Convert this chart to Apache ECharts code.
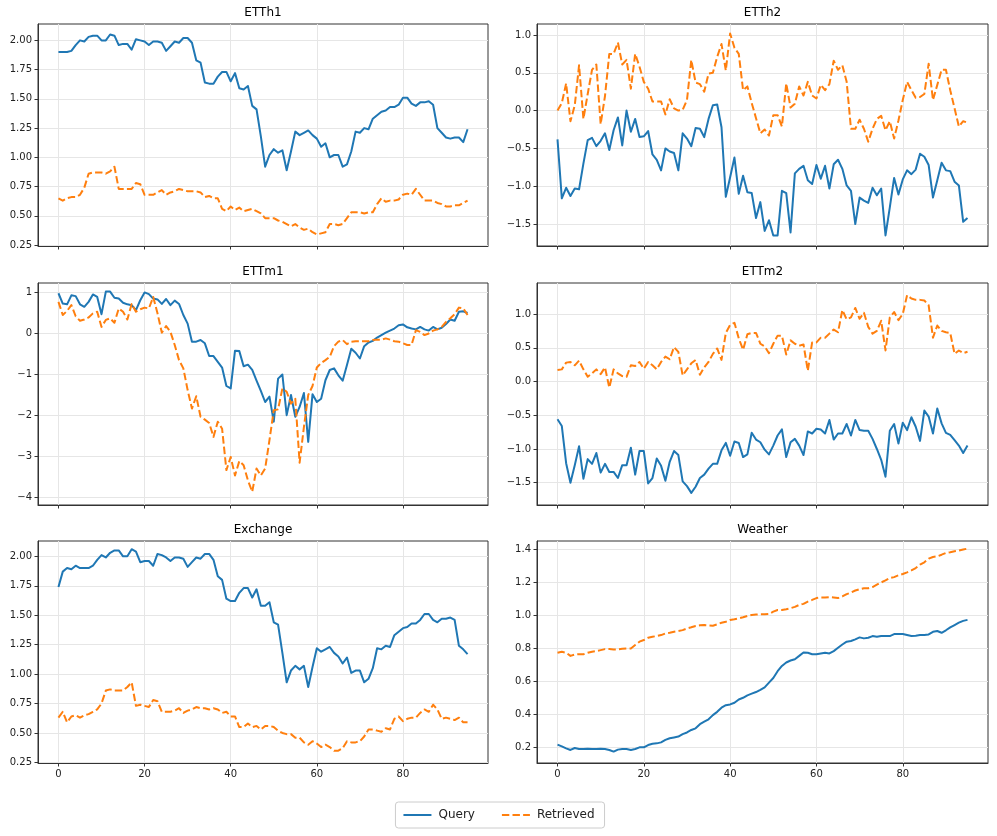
<!DOCTYPE html>
<html>
<head>
<meta charset="utf-8">
<script src="https://cdn.jsdelivr.net/npm/echarts@6.0.0/dist/echarts.min.js"></script>
<style>
  html, body { margin: 0; padding: 0; background: #fff; }
  #main { width: 997px; height: 836px; }
</style>
</head>
<body>
<div id="main"></div>
<script>
// values, one point per step 0..95
const etth1Query = [1.90,1.90,1.90,1.91,1.96,2.00,1.99,2.03,2.04,2.04,2.00,2.00,2.05,2.04,1.96,1.97,1.97,1.92,2.01,2.00,1.99,1.96,1.99,1.99,1.98,1.91,1.95,1.99,1.98,2.02,2.02,1.98,1.83,1.81,1.64,1.63,1.63,1.69,1.73,1.73,1.65,1.72,1.59,1.58,1.61,1.44,1.41,1.18,0.92,1.02,1.07,1.04,1.06,0.89,1.05,1.22,1.19,1.21,1.23,1.19,1.16,1.09,1.12,1.00,1.02,1.02,0.92,0.94,1.05,1.22,1.21,1.25,1.24,1.33,1.36,1.39,1.40,1.43,1.43,1.45,1.51,1.51,1.46,1.44,1.47,1.47,1.48,1.45,1.25,1.21,1.17,1.16,1.17,1.17,1.13,1.24]
const etth1Retrieved = [0.65,0.63,0.65,0.66,0.66,0.68,0.74,0.86,0.87,0.87,0.87,0.86,0.88,0.92,0.73,0.73,0.73,0.73,0.78,0.77,0.68,0.68,0.68,0.70,0.72,0.68,0.70,0.71,0.73,0.72,0.71,0.71,0.71,0.70,0.66,0.67,0.65,0.65,0.56,0.54,0.58,0.55,0.57,0.54,0.55,0.56,0.54,0.52,0.48,0.48,0.48,0.46,0.45,0.43,0.41,0.43,0.40,0.38,0.39,0.36,0.34,0.35,0.36,0.43,0.43,0.42,0.43,0.48,0.53,0.53,0.53,0.52,0.53,0.53,0.60,0.65,0.62,0.63,0.63,0.64,0.68,0.69,0.68,0.73,0.68,0.63,0.63,0.63,0.61,0.60,0.58,0.58,0.59,0.59,0.61,0.63]

const etth2Query = [-0.38,-1.16,-1.02,-1.13,-1.03,-1.04,-0.70,-0.39,-0.36,-0.47,-0.40,-0.30,-0.52,-0.26,-0.09,-0.46,0.00,-0.28,-0.11,-0.35,-0.34,-0.27,-0.58,-0.65,-0.79,-0.50,-0.54,-0.56,-0.79,-0.30,-0.37,-0.47,-0.23,-0.24,-0.35,-0.11,0.07,0.08,-0.22,-1.14,-0.88,-0.62,-1.10,-0.86,-1.08,-1.09,-1.42,-1.21,-1.59,-1.45,-1.65,-1.65,-1.06,-1.09,-1.61,-0.83,-0.77,-0.73,-0.92,-0.97,-0.72,-0.90,-0.73,-1.03,-0.71,-0.65,-0.77,-0.99,-1.06,-1.50,-1.15,-1.19,-1.22,-1.02,-1.12,-1.03,-1.65,-1.28,-0.89,-1.11,-0.91,-0.79,-0.84,-0.78,-0.57,-0.61,-0.72,-1.15,-0.92,-0.69,-0.79,-0.80,-0.94,-0.99,-1.47,-1.42]
const etth2Retrieved = [0.00,0.10,0.36,-0.14,0.07,0.60,-0.11,0.22,0.54,0.61,-0.18,0.19,0.75,0.75,0.90,0.61,0.67,0.29,0.75,0.58,0.38,0.29,0.12,0.12,0.12,-0.05,0.15,0.03,0.00,0.01,0.14,0.67,0.37,0.35,0.25,0.49,0.50,0.71,0.88,0.53,1.02,0.83,0.75,0.27,0.32,0.10,-0.10,-0.30,-0.25,-0.33,-0.06,-0.06,-0.21,0.36,0.04,0.09,0.32,0.20,0.38,0.20,0.16,0.34,0.27,0.35,0.66,0.54,0.60,0.38,-0.24,-0.24,-0.12,-0.24,-0.41,-0.24,-0.11,-0.07,-0.26,-0.14,-0.37,-0.13,0.14,0.38,0.27,0.17,0.18,0.22,0.62,0.14,0.34,0.54,0.54,0.27,0.03,-0.21,-0.14,-0.16]

const ettm1Query = [0.98,0.73,0.71,0.93,0.91,0.71,0.65,0.77,0.95,0.89,0.47,1.02,1.02,0.87,0.85,0.75,0.71,0.69,0.57,0.81,1.00,0.96,0.85,0.83,0.72,0.84,0.69,0.80,0.72,0.45,0.24,-0.20,-0.20,-0.16,-0.24,-0.55,-0.55,-0.69,-0.83,-1.28,-1.34,-0.42,-0.43,-0.80,-0.76,-0.89,-1.15,-1.40,-1.67,-1.54,-2.15,-1.10,-1.00,-1.99,-1.50,-2.03,-1.79,-1.45,-2.64,-1.48,-1.67,-1.59,-1.14,-0.89,-0.85,-1.02,-1.15,-0.77,-0.37,-0.47,-0.61,-0.31,-0.22,-0.18,-0.10,-0.04,0.02,0.07,0.12,0.20,0.22,0.15,0.12,0.10,0.16,0.10,0.07,0.16,0.10,0.14,0.23,0.34,0.31,0.53,0.54,0.50]
const ettm1Retrieved = [0.77,0.45,0.55,0.69,0.42,0.31,0.34,0.39,0.49,0.53,0.16,0.33,0.37,0.26,0.61,0.53,0.34,0.72,0.53,0.59,0.63,0.61,0.89,0.49,0.02,0.18,0.04,-0.28,-0.65,-0.85,-1.38,-1.83,-1.53,-2.03,-2.10,-2.18,-2.52,-2.15,-2.32,-3.33,-3.01,-3.46,-3.11,-3.21,-3.58,-3.86,-3.29,-3.46,-3.29,-2.60,-1.87,-1.85,-1.34,-1.42,-1.71,-1.59,-3.15,-2.28,-1.50,-1.28,-0.83,-0.72,-0.65,-0.57,-0.31,-0.20,-0.16,-0.26,-0.20,-0.19,-0.19,-0.19,-0.19,-0.16,-0.15,-0.15,-0.12,-0.15,-0.19,-0.20,-0.24,-0.28,-0.28,0.08,0.04,-0.04,0.00,0.07,0.10,0.16,0.28,0.37,0.47,0.63,0.61,0.45]

const ettm2Query = [-0.56,-0.66,-1.21,-1.50,-1.24,-0.96,-1.44,-1.15,-1.22,-1.06,-1.35,-1.22,-1.34,-1.34,-1.43,-1.24,-1.24,-0.98,-1.38,-1.03,-1.03,-1.51,-1.43,-1.14,-1.25,-1.47,-1.19,-1.03,-1.09,-1.48,-1.55,-1.65,-1.56,-1.43,-1.38,-1.29,-1.22,-1.22,-1.02,-0.91,-1.10,-0.89,-0.91,-1.12,-1.08,-0.76,-0.86,-0.90,-1.01,-1.08,-0.95,-0.80,-0.71,-1.12,-0.90,-0.85,-0.95,-1.09,-0.74,-0.77,-0.70,-0.71,-0.77,-0.57,-0.86,-0.77,-0.77,-0.63,-0.80,-0.57,-0.72,-0.73,-0.73,-0.85,-1.00,-1.16,-1.41,-0.73,-0.63,-0.92,-0.61,-0.72,-0.53,-0.67,-0.88,-0.43,-0.52,-0.77,-0.40,-0.62,-0.76,-0.79,-0.87,-0.95,-1.06,-0.95]
const ettm2Retrieved = [0.17,0.18,0.28,0.29,0.24,0.31,0.18,0.07,0.12,0.18,0.11,0.21,-0.09,0.18,0.12,0.08,0.07,0.24,0.23,0.29,0.19,0.29,0.24,0.18,0.29,0.37,0.33,0.51,0.44,0.09,0.18,0.27,0.32,0.10,0.21,0.29,0.41,0.49,0.32,0.72,0.84,0.87,0.64,0.47,0.70,0.72,0.72,0.56,0.52,0.42,0.56,0.68,0.68,0.40,0.61,0.56,0.53,0.55,0.16,0.58,0.58,0.65,0.65,0.71,0.77,0.73,1.06,0.92,0.95,1.09,0.93,1.02,0.81,0.71,0.75,0.90,0.46,0.95,1.03,0.91,1.00,1.28,1.23,1.21,1.21,1.20,1.13,0.65,0.83,0.75,0.73,0.72,0.41,0.46,0.42,0.44]

const exchangeQuery = [1.74,1.87,1.90,1.89,1.92,1.90,1.90,1.90,1.92,1.97,2.01,1.99,2.03,2.05,2.05,2.00,2.00,2.06,2.04,1.95,1.96,1.96,1.92,2.02,2.01,1.99,1.96,1.99,1.99,1.98,1.91,1.95,1.99,1.98,2.02,2.02,1.97,1.83,1.80,1.64,1.62,1.62,1.69,1.73,1.73,1.65,1.72,1.58,1.58,1.61,1.44,1.42,1.18,0.93,1.03,1.07,1.04,1.07,0.89,1.06,1.22,1.19,1.21,1.23,1.18,1.15,1.09,1.14,1.01,1.03,1.03,0.93,0.96,1.05,1.22,1.21,1.24,1.23,1.33,1.36,1.39,1.40,1.43,1.43,1.46,1.51,1.51,1.46,1.44,1.47,1.47,1.48,1.46,1.24,1.21,1.17]
const exchangeRetrieved = [0.63,0.68,0.59,0.64,0.65,0.63,0.65,0.66,0.68,0.70,0.75,0.86,0.87,0.86,0.86,0.86,0.89,0.93,0.73,0.74,0.73,0.72,0.78,0.77,0.68,0.68,0.68,0.69,0.71,0.67,0.69,0.70,0.72,0.71,0.71,0.70,0.71,0.70,0.67,0.68,0.64,0.64,0.55,0.55,0.58,0.55,0.56,0.53,0.56,0.56,0.55,0.52,0.50,0.49,0.49,0.46,0.46,0.42,0.40,0.43,0.41,0.38,0.40,0.38,0.35,0.35,0.37,0.43,0.42,0.42,0.43,0.47,0.53,0.53,0.52,0.51,0.54,0.53,0.62,0.64,0.60,0.62,0.63,0.63,0.67,0.70,0.68,0.74,0.70,0.62,0.63,0.62,0.61,0.63,0.59,0.59]

const weatherQuery = [0.216,0.206,0.194,0.184,0.196,0.19,0.19,0.192,0.19,0.19,0.192,0.19,0.184,0.174,0.186,0.19,0.19,0.184,0.19,0.20,0.20,0.214,0.222,0.224,0.23,0.245,0.255,0.26,0.265,0.28,0.29,0.305,0.315,0.34,0.355,0.37,0.395,0.415,0.44,0.455,0.46,0.47,0.49,0.50,0.515,0.525,0.535,0.548,0.563,0.592,0.62,0.661,0.693,0.714,0.726,0.734,0.754,0.775,0.773,0.764,0.764,0.769,0.773,0.769,0.783,0.803,0.823,0.84,0.844,0.854,0.866,0.86,0.864,0.874,0.87,0.874,0.874,0.874,0.886,0.886,0.886,0.88,0.874,0.876,0.88,0.88,0.884,0.90,0.905,0.894,0.909,0.927,0.941,0.955,0.966,0.972]
const weatherRetrieved = [0.773,0.779,0.773,0.754,0.762,0.764,0.764,0.773,0.779,0.783,0.789,0.795,0.795,0.793,0.793,0.797,0.799,0.799,0.82,0.84,0.85,0.864,0.87,0.874,0.88,0.89,0.894,0.90,0.905,0.91,0.92,0.927,0.935,0.939,0.941,0.939,0.937,0.945,0.955,0.961,0.972,0.976,0.982,0.988,0.996,1.002,1.004,1.006,1.006,1.008,1.022,1.032,1.032,1.037,1.043,1.051,1.063,1.069,1.083,1.093,1.104,1.108,1.108,1.11,1.108,1.104,1.114,1.128,1.138,1.15,1.158,1.164,1.164,1.171,1.185,1.199,1.211,1.225,1.231,1.242,1.25,1.26,1.272,1.286,1.307,1.321,1.343,1.353,1.357,1.367,1.378,1.382,1.388,1.392,1.398,1.404]

// tick labels
const xTicks = [0, 20, 40, 60, 80]
const ticksPrice = [0.25, 0.5, 0.75, 1.0, 1.25, 1.5, 1.75, 2.0]
const ticksHalf = [-1.5, -1.0, -0.5, 0.0, 0.5, 1.0]
const ticksInt = [-4, -3, -2, -1, 0, 1]
const ticksWeather = [0.2, 0.4, 0.6, 0.8, 1.0, 1.2, 1.4]

const titles = ['ETTh1', 'ETTh2', 'ETTm1', 'ETTm2', 'Exchange', 'Weather']
const queries = [etth1Query, etth2Query, ettm1Query, ettm2Query, exchangeQuery, weatherQuery]
const retrieved = [etth1Retrieved, etth2Retrieved, ettm1Retrieved, ettm2Retrieved, exchangeRetrieved, weatherRetrieved]
const yTicks = [ticksPrice, ticksHalf, ticksInt, ticksHalf, ticksPrice, ticksWeather]
const yDecimals = [2, 1, 0, 1, 2, 1]
const yLimits = [[0.242, 2.14], [-1.79, 1.145], [-4.18, 1.23], [-1.83, 1.46], [0.245, 2.13], [0.105, 1.45]]

// layout of the 3x2 panels
const colLeft = [38, 537]
const colWidth = [450, 451]
const rowTop = [24, 283, 541]
const rowHeight = 222

const fmt = (d) => (v) => Number(v).toFixed(d).replace('-', '\u2212')

const chart = echarts.init(document.getElementById('main'), null, { renderer: 'canvas' })

const grids = []
const xAxes = []
const yAxes = []
const series = []
const titleList = []

titles.forEach((name, k) => {
  const row = Math.floor(k / 2)
  const col = k % 2
  grids.push({
    left: colLeft[col],
    top: rowTop[row],
    width: colWidth[col],
    height: rowHeight,
    show: true,
    borderColor: '#333',
    borderWidth: 1,
    backgroundColor: '#fff'
  })
  titleList.push({
    text: name,
    left: colLeft[col] + colWidth[col] / 2,
    top: rowTop[row] - 17,
    textAlign: 'center',
    padding: 0,
    textStyle: { fontFamily: 'DejaVu Sans', fontSize: 12, fontWeight: 'normal', color: '#000' }
  })
  xAxes.push({
    type: 'value',
    gridIndex: k,
    min: -4.75,
    max: 99.75,
    axisLine: { show: true, onZero: false, lineStyle: { color: '#333', width: 1 } },
    axisTick: { show: true, length: 3.5, customValues: xTicks, lineStyle: { color: '#333' } },
    axisLabel: {
      show: row === 2,
      customValues: xTicks,
      margin: 6,
      fontFamily: 'DejaVu Sans',
      fontSize: 10,
      color: '#222'
    },
    splitLine: { show: true, lineStyle: { color: '#e6e6e6', width: 1 } }
  })
  yAxes.push({
    type: 'value',
    gridIndex: k,
    min: yLimits[k][0],
    max: yLimits[k][1],
    axisLine: { show: true, onZero: false, lineStyle: { color: '#333', width: 1 } },
    axisTick: { show: true, length: 3.5, customValues: yTicks[k], lineStyle: { color: '#333' } },
    axisLabel: {
      customValues: yTicks[k],
      formatter: fmt(yDecimals[k]),
      margin: 6,
      fontFamily: 'DejaVu Sans',
      fontSize: 10,
      color: '#222'
    },
    splitLine: { show: true, lineStyle: { color: '#e6e6e6', width: 1 } }
  })
  series.push({
    name: 'Query',
    type: 'line',
    xAxisIndex: k,
    yAxisIndex: k,
    data: queries[k].map((v, i) => [i, v]),
    symbol: 'none',
    showSymbol: false,
    itemStyle: { color: '#1f77b4' },
    lineStyle: { color: '#1f77b4', width: 2, join: 'round' },
    z: 3
  })
  series.push({
    name: 'Retrieved',
    type: 'line',
    xAxisIndex: k,
    yAxisIndex: k,
    data: retrieved[k].map((v, i) => [i, v]),
    symbol: 'none',
    showSymbol: false,
    itemStyle: { color: '#ff7f0e' },
    lineStyle: { color: '#ff7f0e', width: 2, type: [7.4, 3.2], join: 'round' },
    z: 3
  })
})

const option = {
  animation: false,
  backgroundColor: '#fff',
  title: titleList,
  legend: {
    data: ['Query', 'Retrieved'],
    left: 'center',
    top: 802,
    itemWidth: 28,
    itemHeight: 14,
    itemGap: 26,
    padding: [7, 10, 7, 7],
    borderColor: '#cccccc',
    borderWidth: 1,
    borderRadius: 3,
    // hide the round marker, keep only the line sample
    itemStyle: { opacity: 0 },
    textStyle: { fontFamily: 'DejaVu Sans', fontSize: 12, color: '#222', padding: [0, 0, 0, 2] }
  },
  grid: grids,
  xAxis: xAxes,
  yAxis: yAxes,
  series: series
}

chart.setOption(option)
</script>
</body>
</html>
